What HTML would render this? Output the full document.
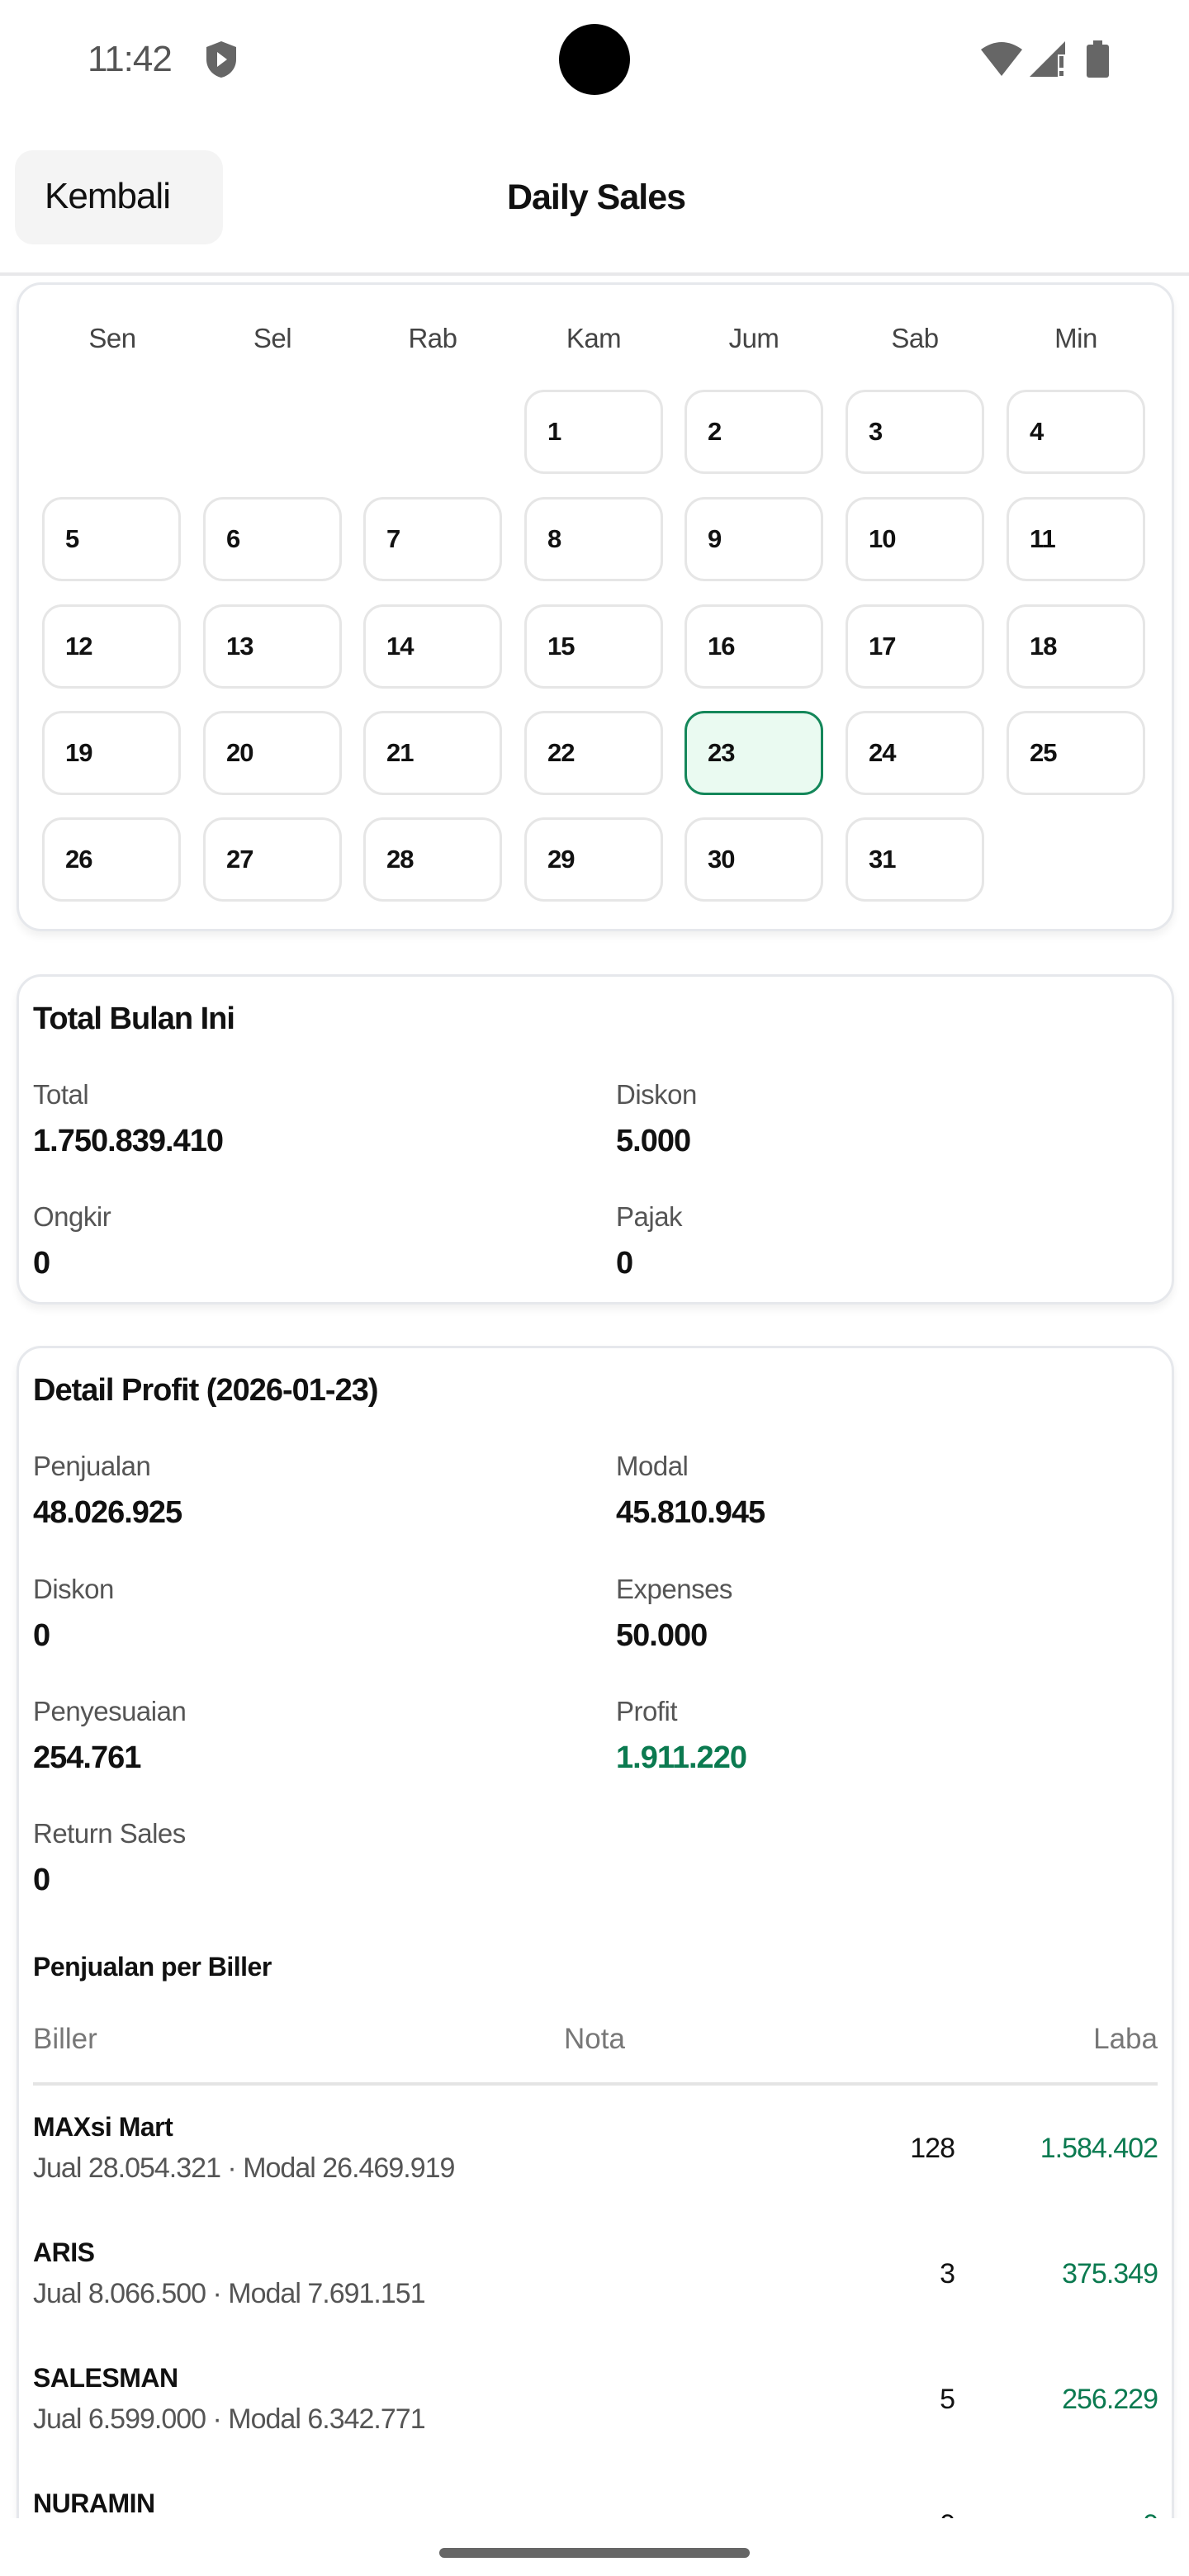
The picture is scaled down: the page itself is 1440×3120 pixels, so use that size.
<!DOCTYPE html>
<html style="width:1440px;height:3120px;overflow:hidden"><head><meta charset="utf-8">
<style>
*{margin:0;padding:0;box-sizing:border-box}
body{width:1440px;height:3120px;background:#fff;position:relative;overflow:hidden;font-family:"Liberation Sans",sans-serif;color:#111}
.t{position:absolute;line-height:50px;white-space:nowrap}
.card{position:absolute;left:20px;width:1402px;border:3px solid #e6e8ec;border-radius:30px;background:#fff;box-shadow:0 6px 10px rgba(0,0,0,0.06)}
.cell{position:absolute;width:168px;height:102px;border:3px solid #e6e6e6;border-radius:24px;background:#fff}
.cell span{position:absolute;left:25px;top:26px;font-size:31px;font-weight:bold;line-height:44px;letter-spacing:-1px}
.wd{font-size:33px;color:#444;transform:translateX(-50%);letter-spacing:-0.5px}
.lb{font-size:33px;color:#555;letter-spacing:-0.5px}
.vl{font-size:38px;font-weight:bold;letter-spacing:-1px}
.g{color:#0b7a50}
.nm{font-size:32px;font-weight:bold;letter-spacing:-0.5px}
.sb{font-size:34px;color:#555;letter-spacing:-1px}
.r{text-align:right;font-size:34px;letter-spacing:-1px}
</style></head><body>
<div class="t" style="left:106px;top:47px;font-size:44px;color:#555;letter-spacing:-1px">11:42</div>
<svg style="position:absolute;left:246px;top:48px" width="44" height="48" viewBox="0 0 44 48"><path d="M22 2 L40 9 V24 C40 36 31 44 22 46 C13 44 4 36 4 24 V9 Z" fill="#666"/><path d="M17 15 L29 24 L17 33 Z" fill="#fff"/></svg>
<div style="position:absolute;left:677px;top:29px;width:86px;height:86px;border-radius:50%;background:#000"></div>
<svg style="position:absolute;left:1185px;top:48px" width="160" height="48" viewBox="0 0 160 48"><path d="M3 12 Q28 -6 53 12 L28 44 Z" fill="#666"/><path d="M62 45 L105 2 V45 Z" fill="#666"/><rect x="96" y="18" width="9" height="27" fill="#fff"/><rect x="98" y="20" width="5" height="14" fill="#666"/><rect x="98" y="38" width="5" height="6" fill="#666"/><rect x="131" y="6" width="27" height="40" rx="3" fill="#666"/><rect x="139" y="1" width="11" height="6" fill="#666"/></svg>
<div style="position:absolute;left:18px;top:182px;width:252px;height:114px;border-radius:22px;background:#f4f4f4"></div>
<div class="t" style="left:54px;top:213px;font-size:44px;letter-spacing:-1px">Kembali</div>
<div class="t" style="left:722px;top:214px;font-size:43px;font-weight:bold;transform:translateX(-50%);letter-spacing:-1px">Daily Sales</div>
<div style="position:absolute;left:0;top:330px;width:1440px;height:4px;background:#e8e8ea"></div>
<div class="card" style="top:342px;height:786px"></div>
<div class="t wd" style="left:136px;top:385px">Sen</div>
<div class="t wd" style="left:330px;top:385px">Sel</div>
<div class="t wd" style="left:524px;top:385px">Rab</div>
<div class="t wd" style="left:719px;top:385px">Kam</div>
<div class="t wd" style="left:913px;top:385px">Jum</div>
<div class="t wd" style="left:1108px;top:385px">Sab</div>
<div class="t wd" style="left:1303px;top:385px">Min</div>
<div class="cell" style="left:635px;top:472px"><span>1</span></div>
<div class="cell" style="left:829px;top:472px"><span>2</span></div>
<div class="cell" style="left:1024px;top:472px"><span>3</span></div>
<div class="cell" style="left:1219px;top:472px"><span>4</span></div>
<div class="cell" style="left:51px;top:602px"><span>5</span></div>
<div class="cell" style="left:246px;top:602px"><span>6</span></div>
<div class="cell" style="left:440px;top:602px"><span>7</span></div>
<div class="cell" style="left:635px;top:602px"><span>8</span></div>
<div class="cell" style="left:829px;top:602px"><span>9</span></div>
<div class="cell" style="left:1024px;top:602px"><span>10</span></div>
<div class="cell" style="left:1219px;top:602px"><span>11</span></div>
<div class="cell" style="left:51px;top:732px"><span>12</span></div>
<div class="cell" style="left:246px;top:732px"><span>13</span></div>
<div class="cell" style="left:440px;top:732px"><span>14</span></div>
<div class="cell" style="left:635px;top:732px"><span>15</span></div>
<div class="cell" style="left:829px;top:732px"><span>16</span></div>
<div class="cell" style="left:1024px;top:732px"><span>17</span></div>
<div class="cell" style="left:1219px;top:732px"><span>18</span></div>
<div class="cell" style="left:51px;top:861px"><span>19</span></div>
<div class="cell" style="left:246px;top:861px"><span>20</span></div>
<div class="cell" style="left:440px;top:861px"><span>21</span></div>
<div class="cell" style="left:635px;top:861px"><span>22</span></div>
<div class="cell" style="left:829px;top:861px;background:#eafaf1;border-color:#14875a"><span>23</span></div>
<div class="cell" style="left:1024px;top:861px"><span>24</span></div>
<div class="cell" style="left:1219px;top:861px"><span>25</span></div>
<div class="cell" style="left:51px;top:990px"><span>26</span></div>
<div class="cell" style="left:246px;top:990px"><span>27</span></div>
<div class="cell" style="left:440px;top:990px"><span>28</span></div>
<div class="cell" style="left:635px;top:990px"><span>29</span></div>
<div class="cell" style="left:829px;top:990px"><span>30</span></div>
<div class="cell" style="left:1024px;top:990px"><span>31</span></div>
<div class="card" style="top:1180px;height:400px"></div>
<div class="t vl" style="left:40px;top:1209px">Total Bulan Ini</div>
<div class="t lb" style="left:40px;top:1301px">Total</div>
<div class="t vl" style="left:40px;top:1357px">1.750.839.410</div>
<div class="t lb" style="left:746px;top:1301px">Diskon</div>
<div class="t vl" style="left:746px;top:1357px">5.000</div>
<div class="t lb" style="left:40px;top:1449px">Ongkir</div>
<div class="t vl" style="left:40px;top:1505px">0</div>
<div class="t lb" style="left:746px;top:1449px">Pajak</div>
<div class="t vl" style="left:746px;top:1505px">0</div>
<div class="card" style="top:1630px;height:1470px"></div>
<div class="t vl" style="left:40px;top:1659px">Detail Profit (2026-01-23)</div>
<div class="t lb" style="left:40px;top:1751px">Penjualan</div>
<div class="t vl" style="left:40px;top:1807px">48.026.925</div>
<div class="t lb" style="left:746px;top:1751px">Modal</div>
<div class="t vl" style="left:746px;top:1807px">45.810.945</div>
<div class="t lb" style="left:40px;top:1900px">Diskon</div>
<div class="t vl" style="left:40px;top:1956px">0</div>
<div class="t lb" style="left:746px;top:1900px">Expenses</div>
<div class="t vl" style="left:746px;top:1956px">50.000</div>
<div class="t lb" style="left:40px;top:2048px">Penyesuaian</div>
<div class="t vl" style="left:40px;top:2104px">254.761</div>
<div class="t lb" style="left:746px;top:2048px">Profit</div>
<div class="t vl g" style="left:746px;top:2104px">1.911.220</div>
<div class="t lb" style="left:40px;top:2196px">Return Sales</div>
<div class="t vl" style="left:40px;top:2252px">0</div>
<div class="t nm" style="left:40px;top:2357px">Penjualan per Biller</div>
<div class="t" style="left:40px;top:2445px;font-size:35px;color:#777">Biller</div>
<div class="t" style="left:720px;top:2445px;font-size:35px;color:#777;transform:translateX(-50%)">Nota</div>
<div class="t" style="right:38px;top:2445px;font-size:35px;color:#777">Laba</div>
<div style="position:absolute;left:40px;top:2522px;width:1362px;height:4px;background:#e4e4e4"></div>
<div class="t nm" style="left:40px;top:2551px">MAXsi Mart</div>
<div class="t sb" style="left:40px;top:2601px">Jual 28.054.321 · Modal 26.469.919</div>
<div class="t r" style="right:284px;top:2577px">128</div>
<div class="t r g" style="right:38px;top:2577px">1.584.402</div>
<div class="t nm" style="left:40px;top:2703px">ARIS</div>
<div class="t sb" style="left:40px;top:2753px">Jual 8.066.500 · Modal 7.691.151</div>
<div class="t r" style="right:284px;top:2729px">3</div>
<div class="t r g" style="right:38px;top:2729px">375.349</div>
<div class="t nm" style="left:40px;top:2855px">SALESMAN</div>
<div class="t sb" style="left:40px;top:2905px">Jual 6.599.000 · Modal 6.342.771</div>
<div class="t r" style="right:284px;top:2881px">5</div>
<div class="t r g" style="right:38px;top:2881px">256.229</div>
<div class="t nm" style="left:40px;top:3007px">NURAMIN</div>
<div class="t r" style="right:284px;top:3033px">0</div>
<div class="t r g" style="right:38px;top:3033px">0</div>
<div style="position:absolute;left:0;top:3050px;width:1440px;height:70px;background:#fff"></div>
<div style="position:absolute;left:532px;top:3086px;width:376px;height:12px;border-radius:6px;background:#666"></div>
</body></html>
